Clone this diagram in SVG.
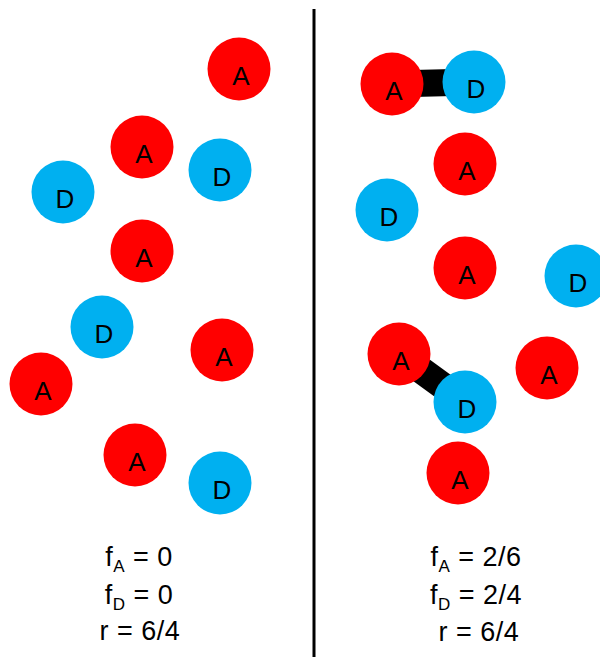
<svg xmlns="http://www.w3.org/2000/svg" width="600" height="657" viewBox="0 0 600 657">
<style>
.a{fill:#FF0000}
.d{fill:#00B0F0}
.lbl{font-family:"Liberation Sans",Arial,sans-serif;font-size:26px;fill:#000;text-anchor:middle}
.eq{font-family:"Liberation Sans",Arial,sans-serif;font-size:27px;fill:#000;text-anchor:middle;letter-spacing:0.5px}
.sub{font-size:17px}
.bond{stroke:#000;stroke-width:27;fill:none}
</style>
<rect width="600" height="657" fill="#fff"/>
<line x1="314" y1="9" x2="314" y2="657" stroke="#000" stroke-width="3"/>
<g id="connectors">
<line class="bond" x1="392" y1="84" x2="474" y2="82"/>
<line class="bond" x1="399" y1="354" x2="465" y2="402"/>
</g>
<g id="L1"><circle class="a" cx="239" cy="69" r="31.5"/><text class="lbl" x="241" y="85">A</text></g>
<g id="L2"><circle class="a" cx="142" cy="147" r="31.5"/><text class="lbl" x="144" y="163">A</text></g>
<g id="L3"><circle class="d" cx="220" cy="170" r="31.5"/><text class="lbl" x="222" y="186">D</text></g>
<g id="L4"><circle class="d" cx="63" cy="192" r="31.5"/><text class="lbl" x="65" y="208">D</text></g>
<g id="L5"><circle class="a" cx="142" cy="251" r="31.5"/><text class="lbl" x="144" y="267">A</text></g>
<g id="L6"><circle class="d" cx="102" cy="327" r="31.5"/><text class="lbl" x="104" y="343">D</text></g>
<g id="L7"><circle class="a" cx="222" cy="350" r="31.5"/><text class="lbl" x="224" y="366">A</text></g>
<g id="L8"><circle class="a" cx="41" cy="384" r="31.5"/><text class="lbl" x="43" y="400">A</text></g>
<g id="L9"><circle class="a" cx="135" cy="455" r="31.5"/><text class="lbl" x="137" y="471">A</text></g>
<g id="L10"><circle class="d" cx="220" cy="483" r="31.5"/><text class="lbl" x="222" y="499">D</text></g>
<g id="R1"><circle class="a" cx="392" cy="84" r="31.5"/><text class="lbl" x="394" y="100">A</text></g>
<g id="R2"><circle class="d" cx="474" cy="82" r="31.5"/><text class="lbl" x="476" y="98">D</text></g>
<g id="R3"><circle class="a" cx="465" cy="164" r="31.5"/><text class="lbl" x="467" y="180">A</text></g>
<g id="R4"><circle class="d" cx="387" cy="210" r="31.5"/><text class="lbl" x="389" y="226">D</text></g>
<g id="R5"><circle class="a" cx="465" cy="268" r="31.5"/><text class="lbl" x="467" y="284">A</text></g>
<g id="R6"><circle class="d" cx="576" cy="276" r="31.5"/><text class="lbl" x="578" y="292">D</text></g>
<g id="R7"><circle class="a" cx="399" cy="354" r="31.5"/><text class="lbl" x="401" y="370">A</text></g>
<g id="R8"><circle class="d" cx="465" cy="402" r="31.5"/><text class="lbl" x="467" y="418">D</text></g>
<g id="R9"><circle class="a" cx="547" cy="368" r="31.5"/><text class="lbl" x="549" y="384">A</text></g>
<g id="R10"><circle class="a" cx="458" cy="473" r="31.5"/><text class="lbl" x="460" y="489">A</text></g>
<g id="left-stats">
<text class="eq" x="139" y="566">f<tspan class="sub" dy="6">A</tspan><tspan dy="-6"> = 0</tspan></text>
<text class="eq" x="139" y="604">f<tspan class="sub" dy="6">D</tspan><tspan dy="-6"> = 0</tspan></text>
<text class="eq" x="140" y="640">r = 6/4</text>
</g>
<g id="right-stats">
<text class="eq" x="476" y="566">f<tspan class="sub" dy="6">A</tspan><tspan dy="-6"> = 2/6</tspan></text>
<text class="eq" x="476" y="604">f<tspan class="sub" dy="6">D</tspan><tspan dy="-6"> = 2/4</tspan></text>
<text class="eq" x="479" y="641">r = 6/4</text>
</g>
</svg>
